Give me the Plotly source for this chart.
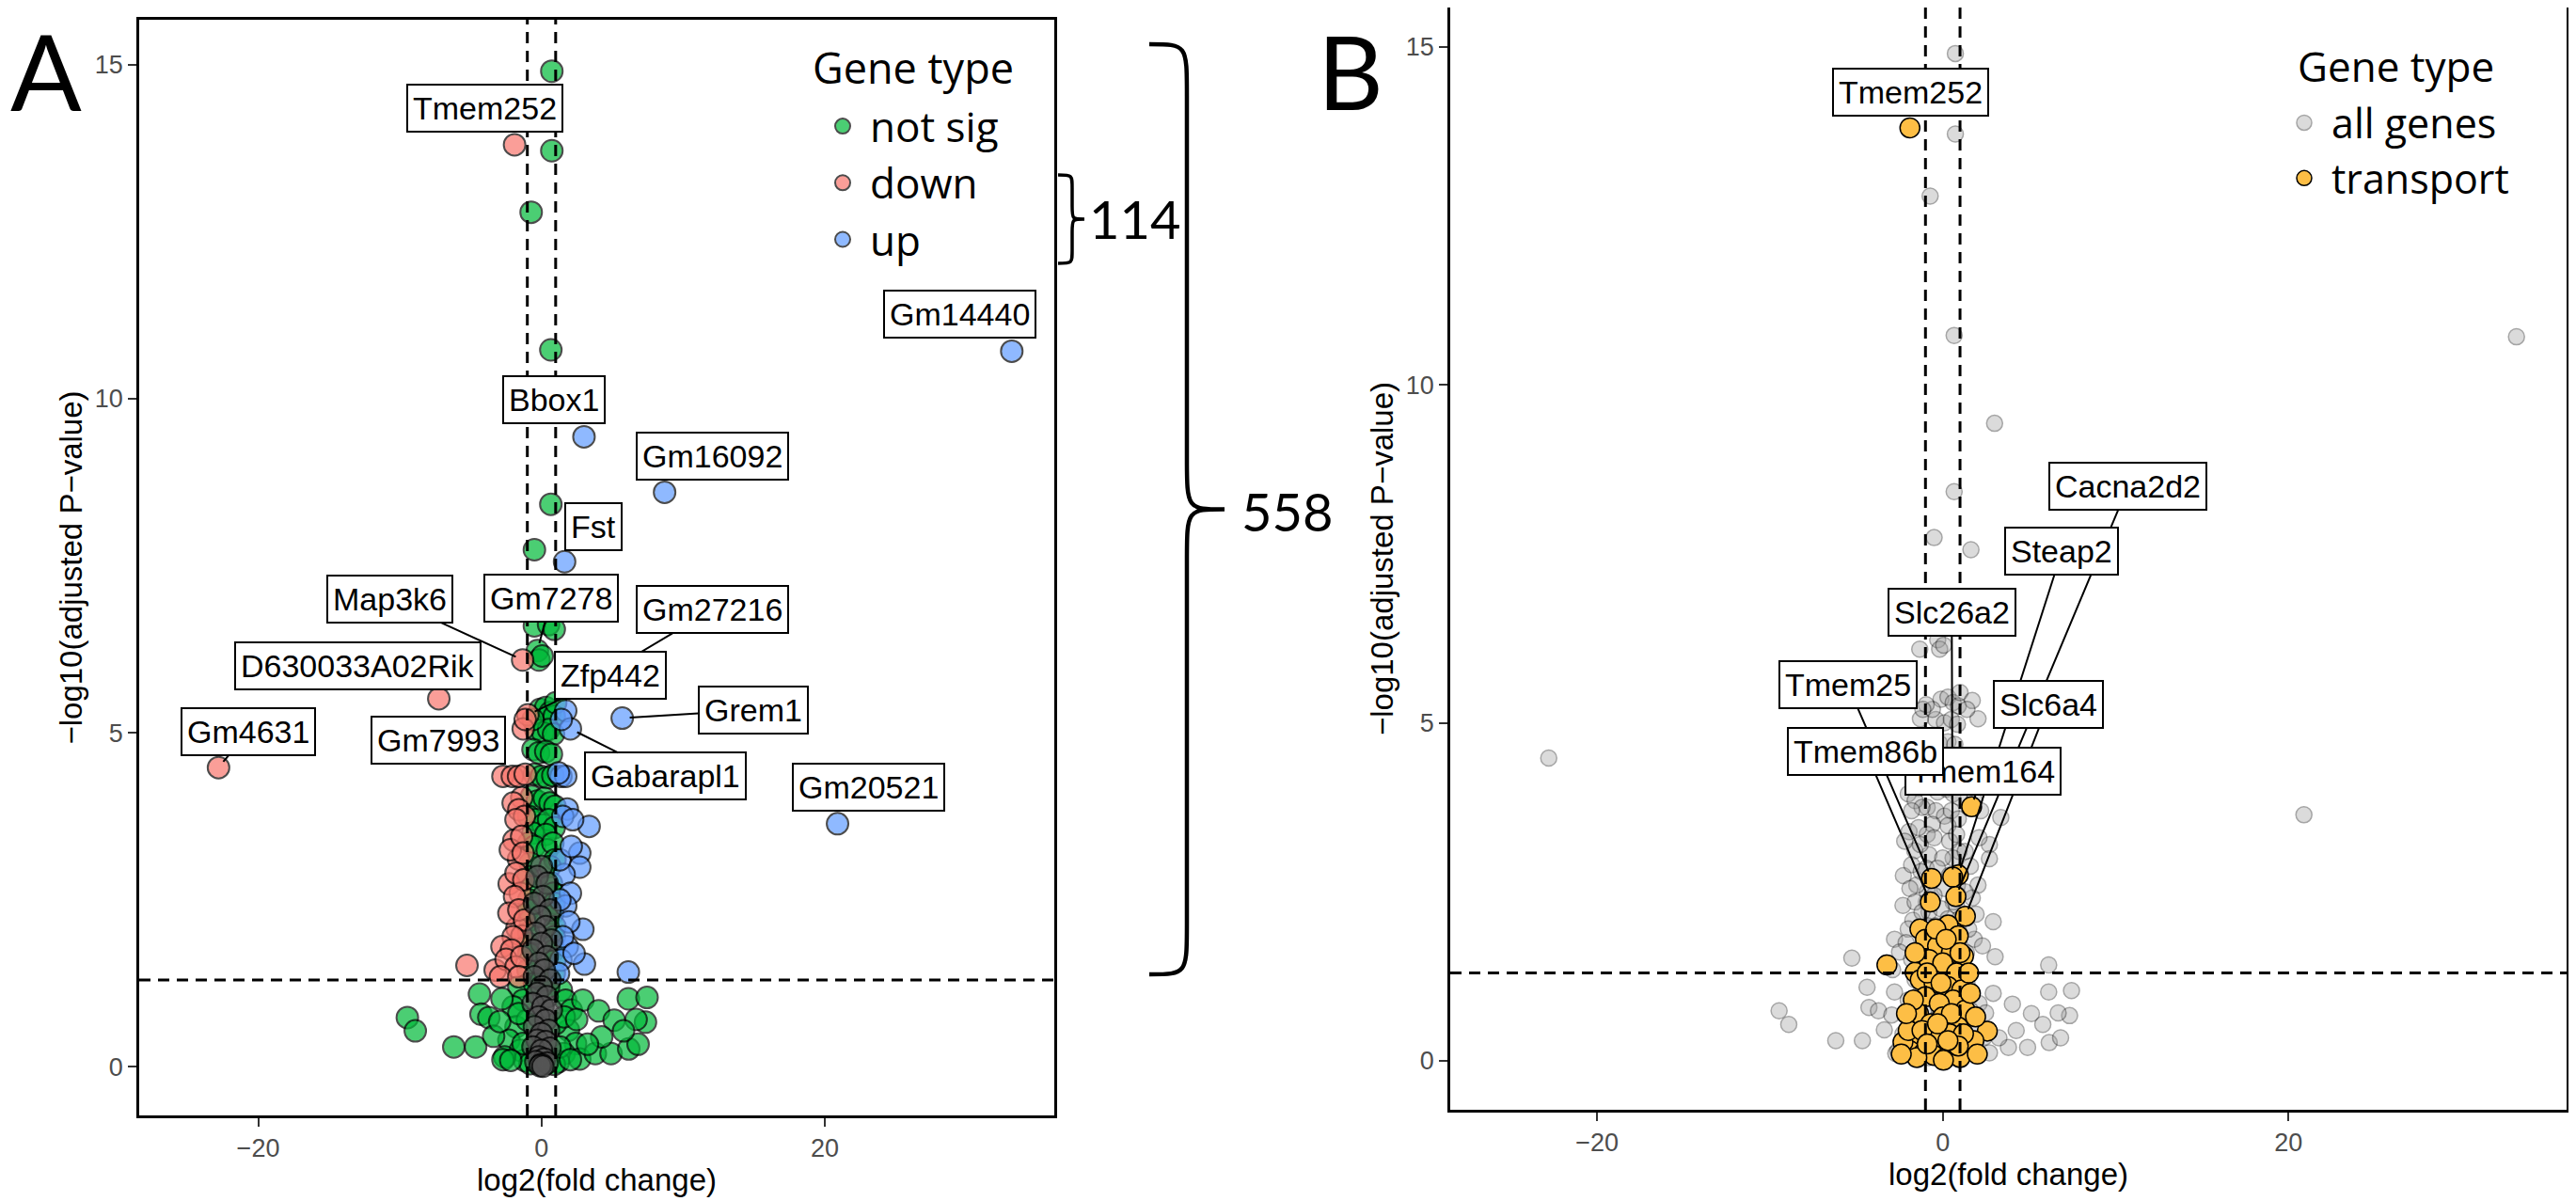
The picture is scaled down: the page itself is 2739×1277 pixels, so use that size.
import plotly.graph_objects as go

W, H = 2739, 1277
OFF = 8                      # the page puts the figure 8px in from the top-left corner
FW, FH = W - OFF, H - OFF

# ---- values: (log2 fold change, -log10 adjusted p) ----
not_sig = [
    (0.73, 14.9), (0.73, 13.71), (-0.73, 12.79), (0.66, 10.73), (0.66, 8.42), (-0.5, 7.74),
    (-0.5, 6.6), (0.5, 6.62), (0.9, 6.55), (-0.29, 6.23), (-0.18, 6.09), (0.05, 6.15),
    (-0.1, 5.35), (0.3, 5.38), (0.6, 5.3), (0.9, 5.25), (-0.4, 5.05), (0.1, 5.0),
    (0.5, 5.05), (0.85, 4.98), (-0.6, 5.2), (1.0, 5.45),
    (-0.6, 4.75), (-0.2, 4.7), (0.3, 4.72), (0.7, 4.68),
    (-0.5, 4.38), (0.0, 4.35), (0.4, 4.33), (0.8, 4.36),
    (-0.7, 4.05), (-0.3, 3.98), (0.2, 4.02), (0.6, 3.95), (0.95, 3.9),
    (-0.9, 3.75), (-0.4, 3.7), (0.1, 3.62), (0.5, 3.7), (0.9, 3.58), (-0.6, 3.5), (0.3, 3.48),
    (-0.9, 3.35), (-0.5, 3.3), (0.4, 3.25), (0.8, 3.35), (0.95, 3.1), (-0.8, 3.05), (0.6, 3.0),
    (-0.95, 2.85), (-0.7, 2.7), (0.7, 2.75), (0.85, 2.6), (-0.9, 2.5), (0.9, 2.45),
    (-0.95, 2.35), (-0.8, 2.2), (0.8, 2.3), (0.95, 2.1), (-0.9, 2.0), (0.9, 1.95),
    (-0.95, 1.85), (-0.9, 1.7), (0.9, 1.75), (0.95, 1.6), (-0.95, 1.45), (0.9, 1.4),
    (-1.6, 1.2), (-1.3, 1.0), (1.4, 1.15), (1.7, 1.0), (-2.0, 0.9), (2.1, 0.85),
    (-1.8, 0.6), (1.9, 0.55), (-2.3, 0.4), (2.4, 0.35), (-1.5, 0.25), (1.6, 0.2),
    (-1.2, 0.1), (1.2, 0.08), (-0.8, 0.05), (0.9, 0.04), (-2.6, 0.15), (2.7, 0.12),
    (-1.0, 0.7), (1.0, 0.65), (-0.5, 1.25), (0.5, 1.2), (-1.3, 0.35), (1.3, 0.3),
    (0.0, 1.3), (-1.6, 0.8), (1.6, 0.75),
    (-9.47, 0.74), (-8.91, 0.54), (-6.19, 0.30), (-4.65, 0.30), (-4.38, 1.09), (-4.27, 0.79),
    (-3.72, 0.74), (-3.38, 0.46), (-2.72, 0.11), (-2.79, 1.02), (2.92, 1.00), (4.03, 0.84),
    (5.13, 0.70), (6.13, 1.02), (7.45, 1.04), (7.34, 0.67), (6.68, 0.71), (3.8, 0.20),
    (4.91, 0.20), (6.16, 0.27), (6.82, 0.34), (5.79, 0.54), (4.25, 0.45), (3.25, 0.34),
    (2.48, 0.71), (2.04, 0.11), (-2.17, 0.10), (-2.95, 0.68),
]

down = [
    (-1.9, 13.8), (-1.33, 6.09), (-7.25, 5.51), (-22.8, 4.48), (-0.96, 5.27), (-1.29, 5.06),
    (-1.15, 5.2), (-2.72, 4.35), (-2.06, 4.35), (-1.62, 4.35), (-1.15, 4.38),
    (-1.39, 4.03), (-2.0, 3.95), (-1.6, 3.85), (-1.2, 3.75), (-1.8, 3.7),
    (-1.95, 3.39), (-1.62, 3.11), (-2.2, 3.25), (-1.4, 3.45), (-1.3, 3.2),
    (-2.28, 2.74), (-1.8, 2.9), (-1.5, 2.6), (-1.25, 2.8), (-1.9, 2.55),
    (-1.73, 2.08), (-1.39, 1.96), (-2.3, 2.3), (-1.6, 2.35), (-1.2, 2.2), (-2.0, 1.95),
    (-2.79, 1.80), (-2.12, 1.75), (-3.27, 1.45), (-2.5, 1.61), (-5.26, 1.52),
    (-1.8, 1.5), (-1.4, 1.65), (-2.9, 1.35), (-1.6, 1.35),
]

up = [
    (33.2, 10.71), (3.0, 9.43), (8.69, 8.60), (1.63, 7.56), (5.7, 5.22), (20.9, 3.64),
    (1.71, 5.33), (2.04, 5.06), (1.4, 5.2),
    (1.37, 4.35), (1.71, 4.35), (1.2, 4.4),
    (1.82, 3.86), (3.36, 3.6), (1.5, 3.75), (2.2, 3.7),
    (2.70, 3.2), (2.70, 2.99), (1.6, 2.88), (1.3, 3.1), (2.1, 3.3),
    (2.04, 2.6), (1.71, 2.41), (1.3, 2.5),
    (2.92, 2.06), (1.93, 2.17), (1.82, 1.8), (1.37, 1.6), (3.03, 1.54), (6.13, 1.42),
    (1.5, 1.95), (2.3, 1.7), (1.2, 1.4),
]

# dense dark-grey core in panel A
core = [
    (0.0, 3.0), (-0.3, 2.85), (0.4, 2.75), (0.1, 2.55), (-0.5, 2.45), (0.6, 2.35),
    (-0.1, 2.25), (0.3, 2.1), (-0.4, 2.0), (0.7, 1.9), (0.0, 1.85), (-0.6, 1.75),
    (0.4, 1.65), (-0.2, 1.55), (0.2, 1.45), (-0.5, 1.35), (0.6, 1.3), (0.0, 1.2),
    (-0.3, 1.1), (0.4, 1.05), (-0.6, 0.95), (0.1, 0.9), (0.7, 0.85), (-0.2, 0.75),
    (0.3, 0.7), (-0.5, 0.6), (0.5, 0.55), (0.0, 0.5), (-0.3, 0.4), (0.3, 0.38),
    (-0.6, 0.3), (0.6, 0.28), (0.0, 0.25), (-0.2, 0.15), (0.2, 0.12), (-0.4, 0.08),
    (0.4, 0.06), (0.0, 0.04), (-0.1, 0.02), (0.1, 0.01),
]

transport = [
    (-1.9, 13.8), (1.67, 3.76), (-0.65, 2.70), (0.9, 2.75), (0.58, 2.72), (-0.72, 2.35),
    (0.76, 2.43), (1.31, 2.14), (-1.32, 1.95), (0.31, 2.01), (-3.23, 1.42), (-1.6, 1.31),
    (2.58, 0.44), (-1.0, 1.8), (0.9, 1.85), (-0.3, 1.7), (0.5, 1.6), (1.2, 1.55),
    (-0.8, 1.5), (0.0, 1.45), (-1.3, 1.2), (0.8, 1.3), (-0.5, 1.15), (0.3, 1.1),
    (1.1, 1.05), (-1.0, 0.95), (0.6, 0.9), (-0.2, 0.85), (-1.4, 0.7), (1.3, 0.75),
    (0.0, 0.65), (-0.7, 0.55), (0.9, 0.5), (-1.6, 0.35), (0.4, 0.4), (-0.4, 0.3),
    (1.5, 0.25), (-1.9, 0.15), (-1.1, 0.12), (0.7, 0.15), (-0.5, 0.08), (0.2, 0.05),
    (1.0, 0.05), (-1.5, 0.05), (-2.3, 0.28), (-2.0, 0.45), (1.8, 0.3),
    (-1.7, 0.9), (1.6, 1.0), (-2.1, 0.7), (1.9, 0.65), (-1.2, 0.45), (1.2, 0.4),
    (-0.9, 1.3), (1.0, 1.6), (-0.4, 1.95), (0.2, 1.8), (-1.6, 1.6), (1.5, 1.3),
    (-0.1, 1.15), (0.5, 0.7), (-0.9, 0.25), (0.9, 0.22), (-2.4, 0.1), (2.0, 0.1),
    (-0.3, 0.55), (0.3, 0.3), (0.04, 0.01),
]

# labelled genes and the point each label belongs to
a_genes = ["Tmem252", "Gm14440", "Bbox1", "Gm16092", "Fst", "Map3k6", "Gm7278", "Gm27216",
           "D630033A02Rik", "Zfp442", "Grem1", "Gm4631", "Gm7993", "Gabarapl1", "Gm20521"]
a_gene_x = [-1.9, 33.2, 3.0, 8.69, 1.63, -1.33, -0.29, 1.0, -7.25, -0.96, 5.7, -22.8, -1.29, 2.04, 20.9]
a_gene_y = [13.8, 10.71, 9.43, 8.60, 7.56, 6.09, 6.23, 5.45, 5.51, 5.27, 5.22, 4.48, 5.06, 5.06, 3.64]

b_genes = ["Tmem252", "Cacna2d2", "Steap2", "Slc26a2", "Tmem25", "Slc6a4", "Tmem164", "Tmem86b"]
b_gene_x = [-1.9, 0.76, 0.9, 0.58, -0.65, 1.31, 1.67, -0.72]
b_gene_y = [13.8, 2.43, 2.75, 2.72, 2.70, 2.14, 3.76, 2.35]

# where each label box sits (centre, data units) and whether a segment is drawn
a_label_pos = {
    "Tmem252": (-3.98, 14.35, False), "Gm14440": (29.56, 11.27, False),
    "Bbox1": (0.86, 9.98, False), "Gm16092": (12.08, 9.14, False), "Fst": (3.65, 8.09, False),
    "Map3k6": (-10.7, 7.0, True), "Gm7278": (0.70, 7.01, True), "Gm27216": (12.04, 6.84, True),
    "D630033A02Rik": (-12.94, 6.0, False), "Zfp442": (4.88, 5.86, True),
    "Grem1": (14.93, 5.34, True), "Gm4631": (-20.7, 5.02, True), "Gm7993": (-7.27, 4.89, False),
    "Gabarapl1": (8.73, 4.35, True), "Gm20521": (23.1, 4.18, False),
}
b_label_pos = {
    "Tmem252": (-1.87, 14.33, False), "Cacna2d2": (10.73, 8.50, True), "Steap2": (6.9, 7.54, True),
    "Slc26a2": (0.52, 6.64, True), "Tmem25": (-5.5, 5.56, True), "Slc6a4": (6.1, 5.27, True),
    "Tmem164": (2.34, 4.28, True), "Tmem86b": (-4.46, 4.58, True),
}

AX_FONT = "Liberation Sans, Arial, sans-serif"
CAL_FONT = "Lato, Noto Sans, sans-serif"
LEG_FONT = "Open Sans, Noto Sans, sans-serif"


def px(x):
    return (x - OFF) / FW


def py(y):
    return min(1.0, max(0.0, 1 - (y - OFF) / FH))


def xs(pts):
    return [p[0] for p in pts]


def ys(pts):
    return [p[1] for p in pts]


def brace_path(xt, xs_, xp, y0, y1, r):
    ym = (y0 + y1) / 2
    P = lambda x, y: f"{px(x):.5f},{py(y):.5f}"
    return (f"M {P(xt, y0)} C {P(xs_, y0)} {P(xs_, y0)} {P(xs_, y0 + r)} "
            f"L {P(xs_, ym - r)} C {P(xs_, ym)} {P(xs_, ym)} {P(xp, ym)} "
            f"C {P(xs_, ym)} {P(xs_, ym)} {P(xs_, ym + r)} "
            f"L {P(xs_, y1 - r)} C {P(xs_, y1)} {P(xs_, y1)} {P(xt, y1)}")


fig = go.Figure()

# panel A
a_style = dict(size=23, opacity=0.7, line=dict(color="black", width=2))
fig.add_trace(go.Scatter(x=xs(not_sig), y=ys(not_sig), mode="markers", name="not sig",
                         marker=dict(color="#00BA38", **a_style), legend="legend"))
fig.add_trace(go.Scatter(x=xs(down), y=ys(down), mode="markers", name="down",
                         marker=dict(color="#F8766D", **a_style), legend="legend"))
fig.add_trace(go.Scatter(x=xs(up), y=ys(up), mode="markers", name="up",
                         marker=dict(color="#619CFF", **a_style), legend="legend"))
fig.add_trace(go.Scatter(x=xs(core), y=ys(core), mode="markers", showlegend=False,
                         marker=dict(color="#555555", **a_style)))

# panel B
all_genes = not_sig + down + up + core
fig.add_trace(go.Scatter(x=xs(all_genes), y=ys(all_genes), mode="markers", name="all genes",
                         marker=dict(color="#9a9a9a", size=17, opacity=0.35,
                                     line=dict(color="black", width=1.5)),
                         xaxis="x2", yaxis="y2", legend="legend2"))
fig.add_trace(go.Scatter(x=xs(transport), y=ys(transport), mode="markers", name="transport",
                         marker=dict(color="#FDBE45", size=21,
                                     line=dict(color="black", width=1.5)),
                         xaxis="x2", yaxis="y2", legend="legend2"))

# gene labels
annotations = []
for genes, gx, gy, pos, xr, yr in [(a_genes, a_gene_x, a_gene_y, a_label_pos, "x", "y"),
                                    (b_genes, b_gene_x, b_gene_y, b_label_pos, "x2", "y2")]:
    for g, x, y in zip(genes, gx, gy):
        lx, ly, arrow = pos[g]
        ann = dict(text=g, font=dict(family=AX_FONT, size=34, color="black"),
                   bgcolor="white", bordercolor="black", borderwidth=2, borderpad=5,
                   xref=xr, yref=yr)
        if arrow:
            ann.update(x=x, y=y, ax=lx, ay=ly, axref=xr, ayref=yr, showarrow=True,
                       arrowhead=0, arrowwidth=2, arrowcolor="black",
                       standoff=45 if g == "Gm27216" else 8)
        else:
            ann.update(x=lx, y=ly, showarrow=False)
        annotations.append(ann)

# panel letters, legend headings and brace counts
paper_txt = dict(xref="paper", yref="paper", showarrow=False, yanchor="middle")
annotations += [
    dict(text="A", x=px(49), y=py(75), xanchor="center",
         font=dict(family=CAL_FONT, size=112, color="black"), **paper_txt),
    dict(text="B", x=px(1436), y=py(75), xanchor="center",
         font=dict(family=CAL_FONT, size=108, color="black"), **paper_txt),
    dict(text="Gene type", x=px(862), y=py(72), xanchor="left",
         font=dict(family=LEG_FONT, size=45, color="black"), **paper_txt),
    dict(text="Gene type", x=px(2441), y=py(70), xanchor="left",
         font=dict(family=LEG_FONT, size=44, color="black"), **paper_txt),
    dict(text="114", x=px(1156), y=py(232), xanchor="left",
         font=dict(family=CAL_FONT, size=56, color="black"), **paper_txt),
    dict(text="558", x=px(1318), y=py(544), xanchor="left",
         font=dict(family=CAL_FONT, size=56, color="black"), **paper_txt),
]

shapes = []
for xr, yr in [("x", "y"), ("x2", "y2")]:
    for v in (-1, 1):
        shapes.append(dict(type="line", xref=xr, yref=f"{yr} domain", x0=v, x1=v, y0=0, y1=1,
                           line=dict(color="black", width=3, dash="12px,8px"), layer="above"))
    shapes.append(dict(type="line", xref=f"{xr} domain", yref=yr, x0=0, x1=1, y0=1.301, y1=1.301,
                       line=dict(color="black", width=3, dash="12px,8px"), layer="above"))
shapes.append(dict(type="path", xref="paper", yref="paper",
                   path=brace_path(1222, 1262, 1302, 47, 1036, 55),
                   line=dict(color="black", width=4.5)))
shapes.append(dict(type="path", xref="paper", yref="paper",
                   path=brace_path(1125, 1140, 1153, 186, 280, 14),
                   line=dict(color="black", width=3.5)))

axis_common = dict(showline=True, mirror=True, linecolor="black", linewidth=2.5,
                   showgrid=False, zeroline=False, ticks="outside", ticklen=9, tickwidth=2,
                   tickcolor="#333333", tickfont=dict(family=AX_FONT, size=27, color="#4D4D4D"),
                   automargin=False)
xtitle = dict(text="log2(fold change)", font=dict(family=AX_FONT, size=33, color="black"), standoff=6)
ytitle = dict(text="−log10(adjusted P−value)", font=dict(family=AX_FONT, size=33, color="black"),
              standoff=4)

legend_common = dict(xanchor="left", yanchor="top", bgcolor="rgba(0,0,0,0)", itemwidth=48,
                     tracegroupgap=0)

fig.update_layout(
    width=FW, height=FH, margin=dict(l=0, r=0, t=0, b=0),
    paper_bgcolor="white", plot_bgcolor="white",
    xaxis=dict(domain=[px(148), px(1121)], range=[-28.4, 36.2], tickvals=[-20, 0, 20],
               title=xtitle, anchor="y", **axis_common),
    yaxis=dict(domain=[py(1186), py(21)], range=[-0.725, 15.67], tickvals=[0, 5, 10, 15],
               title=ytitle, anchor="x", **axis_common),
    xaxis2=dict(domain=[px(1542), px(2729)], range=[-28.5, 36.1], tickvals=[-20, 0, 20],
                title=xtitle, anchor="y2", **axis_common),
    yaxis2=dict(domain=[py(1180), py(8)], range=[-0.723, 15.58], tickvals=[0, 5, 10, 15],
                title=ytitle, anchor="x2", **axis_common),
    legend=dict(x=px(867), y=py(99), font=dict(family=LEG_FONT, size=44, color="black"),
                **legend_common),
    legend2=dict(x=px(2421), y=py(96), font=dict(family=LEG_FONT, size=43, color="black"),
                 **legend_common),
    annotations=annotations,
    shapes=shapes,
)

fig.write_html("out.html")
